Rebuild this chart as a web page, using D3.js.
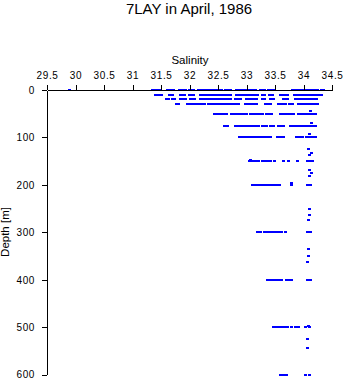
<!DOCTYPE html>
<html><head><meta charset="utf-8">
<script src="https://cdn.jsdelivr.net/npm/d3@7"></script>
<style>
html,body{margin:0;padding:0;background:#fff;}
svg{display:block;font-family:"Liberation Sans",Arial,sans-serif;}
</style></head>
<body><div id="chart"></div>
<script>
// Tick values
const salTicks = [29.5,30,30.5,31,31.5,32,32.5,33,33.5,34,34.5];
const depthTicks = [0,100,200,300,400,500,600];

// Observed salinity at standard depths (many stations)
const rowDepths = [0,10,20,30,50,75,100,150,200,300,400,500,600];
const sal0 = [29.89,31.34,31.38,31.42,31.46,31.6,31.64,31.68,31.71,31.82,31.86,31.9,31.92,31.99,32.03,32.06,
  32.15,32.19,32.23,32.29,32.33,32.37,32.41,32.45,32.49,32.53,32.56,32.63,32.67,32.71,32.82,32.86,32.9,32.94,
  32.99,33.03,33.07,33.11,33.15,33.24,33.28,33.31,33.37,33.41,33.45,33.48,
  33.8,33.84,33.88,33.92,33.96,34.0,34.04,34.08,34.12,34.16,34.2,34.24,34.3,34.35];
const sal10 = [31.39,31.43,31.47,31.5,31.64,31.69,31.83,31.87,31.91,31.99,32.03,32.07,32.18,32.22,
  32.27,32.31,32.35,32.39,32.43,32.47,32.51,32.55,32.59,32.63,32.67,32.71,32.82,32.86,
  32.92,32.96,33.0,33.04,33.08,33.12,33.16,33.18,33.27,33.31,33.4,33.44,33.59,33.63,33.67,33.71,
  33.84,33.88,33.92,33.96,34.0,34.04,34.08,34.12,34.16,34.2,34.24,34.28,34.31];
const sal20 = [31.58,31.63,31.69,31.73,31.84,31.88,31.92,32.01,32.05,32.08,32.19,32.23,32.29,32.33,32.37,
  32.41,32.45,32.49,32.53,32.57,32.61,32.65,32.69,32.71,32.8,32.84,32.88,33.0,33.04,33.08,33.12,33.17,
  33.27,33.31,33.41,33.46,33.64,33.68,33.71,33.85,33.89,33.93,33.97,34.01,34.05,34.09,34.13,34.17,34.22];
const sal30 = [31.76,31.8,31.96,32.0,32.04,32.08,32.12,32.15,32.2,32.25,32.33,32.37,32.41,32.45,32.49,32.53,
  32.57,32.61,32.65,32.69,32.73,32.77,32.81,32.85,32.97,33.01,33.05,33.09,33.13,33.16,33.32,33.36,33.41,
  33.55,33.59,33.63,33.67,33.75,33.8,33.91,33.95,33.99,34.03,34.07,34.11,34.15,34.19,34.23];
const sal50 = [32.43,32.47,32.51,32.55,32.6,32.64,32.73,32.77,32.81,32.85,32.89,32.93,32.97,33.0,
  33.06,33.1,33.15,33.19,33.23,33.27,33.35,33.39,33.43,33.59,33.63,33.67,33.71,33.75,33.79,33.81,
  33.9,33.94,33.98,34.02,34.06,34.1,34.14,34.18,34.21];
const sal75 = [32.61,32.65,32.8,32.84,32.88,32.92,32.96,33.0,33.04,33.08,33.14,33.18,33.2,33.27,33.31,33.35,
  33.42,33.46,33.56,33.6,33.64,33.77,33.81,33.85,33.89,33.93,33.97,34.01,34.05,34.09,34.13,34.17,34.21];
const sal100 = [32.86,32.9,32.94,32.98,33.02,33.06,33.1,33.14,33.18,33.21,33.25,33.29,33.33,33.37,33.41,
  33.54,33.58,33.62,33.64,33.87,33.91,33.95,33.97,34.05,34.09,34.13,34.17,34.21];
const sal150 = [33.04,33.1,33.15,33.2,33.27,33.31,33.34,33.38,33.41,33.48,33.64,33.72,33.89,34.07,34.11,34.15];
const sal200 = [33.1,33.15,33.2,33.26,33.31,33.36,33.41,33.47,33.52,33.57,33.78,34.07,34.12];
const sal300 = [33.19,33.24,33.3,33.35,33.4,33.45,33.5,33.56,33.61,33.67,34.07,34.12];
const sal400 = [33.36,33.41,33.47,33.52,33.57,33.61,33.69,33.75,33.78,34.07,34.12];
const sal500 = [33.47,33.52,33.57,33.62,33.68,33.71,33.78,33.85,33.91,34.03,34.09];
const sal600 = [33.59,33.64,33.69,34.03,34.09];
const rowSal = [sal0,sal10,sal20,sal30,sal50,sal75,sal100,sal150,sal200,sal300,sal400,sal500,sal600];

// Single observations at intermediate depths
const extraDepth = [45,70,93,124,132,137,148,168,175,182,197,250,264,273,336,350,362,497,525,544];
const extraSal   = [34.12,34.14,34.1,34.08,34.14,34.09,33.07,34.09,34.13,34.09,33.78,34.09,34.09,34.08,34.08,34.08,34.07,34.08,34.07,34.07];

const W = 346, H = 384;
const svg = d3.select("#chart").append("svg").attr("width", W).attr("height", H);

const x = d3.scaleLinear().domain([29.5, 34.5]).range([47, 332]);
const y = d3.scaleLinear().domain([0, 600]).range([90, 374.7]);

const pts = [];
rowDepths.forEach((d, i) => rowSal[i].forEach(s => pts.push({d, s})));
extraDepth.forEach((d, i) => pts.push({d, s: extraSal[i]}));

const g = svg.append("g").attr("fill", "#0000ff").attr("shape-rendering", "crispEdges");
g.selectAll("rect.pt").data(pts).join("rect").attr("class", "pt")
  .attr("x", p => Math.round(x(p.s)) - 1.5)
  .attr("y", p => Math.round(y(p.d)) - 1)
  .attr("width", 3).attr("height", 2);

const xAxis = d3.axisTop(x).tickValues(salTicks).tickFormat(d => String(d))
  .tickSize(5).tickSizeOuter(0).tickPadding(6);
const yAxis = d3.axisLeft(y).tickValues(depthTicks).tickFormat(d => String(d))
  .tickSize(5).tickSizeOuter(0).tickPadding(7);

const gx = svg.append("g").attr("transform", "translate(0,90)").call(xAxis);
const gy = svg.append("g").attr("transform", "translate(47,0)").call(yAxis);
[gx, gy].forEach(a => {
  a.selectAll("path,line").attr("stroke", "#000").attr("shape-rendering", "crispEdges");
  a.selectAll("text").attr("fill", "#000").attr("font-size", 10)
    .attr("font-family", "'Liberation Sans', Arial, sans-serif").style("letter-spacing", "0.6px");
});

svg.append("text").attr("x", 189).attr("y", 13.5).attr("text-anchor", "middle")
  .attr("font-size", 15).attr("fill", "#000").text("7LAY in April, 1986");
svg.append("text").attr("x", 190).attr("y", 64).attr("text-anchor", "middle")
  .attr("font-size", 11.5).attr("fill", "#000").text("Salinity");
svg.append("text").attr("transform", "translate(9,232) rotate(-90)").attr("text-anchor", "middle")
  .attr("font-size", 11.5).attr("fill", "#000").text("Depth [m]");
</script>
</body></html>
